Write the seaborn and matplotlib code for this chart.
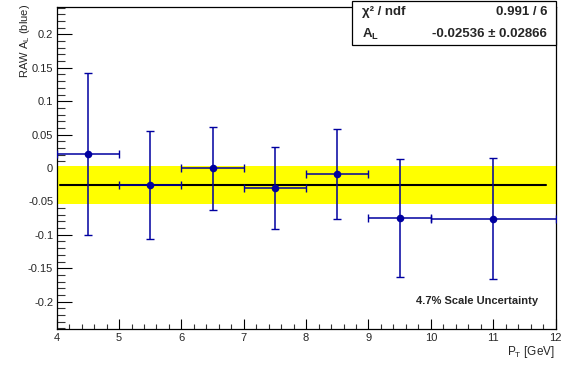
import numpy as np
import pandas as pd
import matplotlib
matplotlib.use("Agg")
import matplotlib.pyplot as plt
import seaborn as sns
from matplotlib.ticker import MultipleLocator, FixedLocator, FixedFormatter

# ---- data ----
pt_center = [4.5, 5.5, 6.5, 7.5, 8.5, 9.5, 11.0]
pt_halfwidth = [0.5, 0.5, 0.5, 0.5, 0.5, 0.5, 1.0]
raw_al = [0.0205, -0.0254, -0.0005, -0.0296, -0.0086, -0.0748, -0.0758]
raw_al_err = [0.121, 0.0808, 0.0625, 0.0610, 0.0675, 0.0882, 0.0910]

fit_value = -0.02536
fit_error = 0.02866
fit_range = [4.05, 11.85]
band_range = [4.0, 12.0]
chi2_ndf = "0.991 / 6"

y_ticks = [-0.2, -0.15, -0.1, -0.05, 0.0, 0.05, 0.1, 0.15, 0.2]
y_tick_labels = ["-0.2", "-0.15", "-0.1", "-0.05", "0", "0.05", "0.1", "0.15", "0.2"]
x_ticks = [4, 5, 6, 7, 8, 9, 10, 11, 12]
x_tick_labels = ["4", "5", "6", "7", "8", "9", "10", "11", "12"]

sns.set_theme(style="ticks")
plt.rcParams["font.family"] = ["Liberation Sans", "DejaVu Sans"]
plt.rcParams["axes.unicode_minus"] = False
plt.rcParams["mathtext.fontset"] = "custom"
plt.rcParams["mathtext.rm"] = "Liberation Sans"
plt.rcParams["mathtext.it"] = "Liberation Sans:italic"
plt.rcParams["mathtext.bf"] = "Liberation Sans:bold"

W, H = 567, 366
fig = plt.figure(figsize=(W / 100, H / 100), dpi=100)
fig.patch.set_facecolor("white")
x0, x1 = 56.7, 555.5
y0, y1 = 7.3, 329.3
ax = fig.add_axes([x0 / W, 1 - y1 / H, (x1 - x0) / W, (y1 - y0) / H])
ax.set_facecolor("white")

blue = "#0000a0"

# yellow uncertainty band of the fit
ax.fill_between(band_range, [fit_value - fit_error] * 2, [fit_value + fit_error] * 2,
                color="#ffff00", linewidth=0, zorder=1)

# fit line
fit_df = pd.DataFrame({"x": fit_range, "y": [fit_value, fit_value]})
sns.lineplot(data=fit_df, x="x", y="y", color="black", linewidth=1.5, ax=ax, zorder=2)

# data points with error bars
ax.errorbar(pt_center, raw_al, xerr=pt_halfwidth, yerr=raw_al_err, fmt="none",
            ecolor=blue, elinewidth=1.1, capsize=3.2, capthick=1.0, zorder=3)
df = pd.DataFrame({"pt": pt_center, "al": raw_al})
sns.scatterplot(data=df, x="pt", y="al", color=blue, s=30, edgecolor=blue,
                linewidth=0, ax=ax, zorder=4)

ax.set_xlim(4, 12)
ax.set_ylim(-0.2415, 0.2406)
ax.set_xlabel("")
ax.set_ylabel("")

ax.xaxis.set_major_locator(FixedLocator(x_ticks))
ax.xaxis.set_major_formatter(FixedFormatter(x_tick_labels))
ax.xaxis.set_minor_locator(MultipleLocator(0.2))
ax.yaxis.set_major_locator(FixedLocator(y_ticks))
ax.yaxis.set_major_formatter(FixedFormatter(y_tick_labels))
ax.yaxis.set_minor_locator(MultipleLocator(0.01))

ax.tick_params(axis="x", which="major", direction="in", length=7.2, width=0.8,
               color="black", labelsize=8, pad=3, top=False)
ax.tick_params(axis="x", which="minor", direction="in", length=3.6, width=0.8,
               color="#333333", top=False)
ax.tick_params(axis="y", which="major", direction="in", length=10.8, width=0.8,
               color="black", labelsize=8, pad=2.5, right=False)
ax.tick_params(axis="y", which="minor", direction="in", length=5.4, width=0.8,
               color="#333333", right=False)
for s in ax.spines.values():
    s.set_visible(True)
    s.set_color("black")
    s.set_linewidth(0.9)

# axis titles (ROOT-style placement)
fig.text(25 / W, 1 - 4 / H, r"RAW A$_\mathrm{L}$ (blue)", rotation=90,
         ha="center", va="top", fontsize=8)
fig.text(555 / W, 1 - 355 / H, r"P$_\mathrm{T}$ [GeV]", ha="right",
         va="baseline", fontsize=8.5)

# statistics box
bx0, bx1, by0, by1 = 352, 556, 1, 45
rect = plt.Rectangle((bx0 / W, 1 - by1 / H), (bx1 - bx0) / W, (by1 - by0) / H,
                     transform=fig.transFigure, facecolor="white",
                     edgecolor="black", linewidth=0.9, zorder=10)
fig.patches.append(rect)
fig.text(362 / W, 1 - 12 / H, "χ² / ndf", ha="left", va="center",
         fontsize=9.5, fontweight="bold", zorder=11)
fig.text(547 / W, 1 - 12 / H, chi2_ndf, ha="right", va="center",
         fontsize=9.5, fontweight="bold", zorder=11)
fig.text(362 / W, 1 - 34 / H, r"A$_\mathbf{L}$", ha="left", va="center",
         fontsize=9.5, fontweight="bold", zorder=11)
fig.text(547 / W, 1 - 34 / H, f"{fit_value:.5f} ± {fit_error:.5f}", ha="right",
         va="center", fontsize=9.5, fontweight="bold", zorder=11)

fig.text(538 / W, 1 - 301 / H, "4.7% Scale Uncertainty", ha="right", va="center",
         fontsize=8, fontweight="bold")

fig.savefig("out.png", dpi=100, facecolor="white")
